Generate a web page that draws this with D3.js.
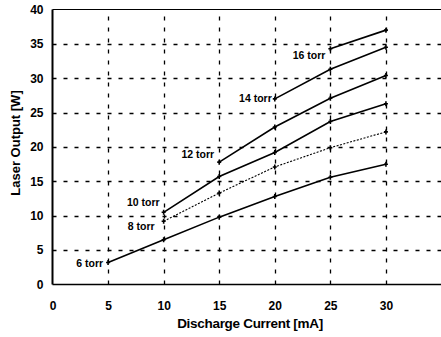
<!DOCTYPE html>
<html>
<head>
<meta charset="utf-8">
<script src="https://cdn.jsdelivr.net/npm/d3@7"></script>
<style>
  body { margin: 0; background: #fff; }
  text { font-family: "Liberation Sans", Arial, sans-serif; fill: #000; }
</style>
</head>
<body>
<svg id="chart" width="441" height="337"></svg>
<script>
// data
var currents = [5, 10, 15, 20, 25, 30]
var torr6  = [3.2, 6.5, 9.8, 12.8, 15.6, 17.5]
var torr8  = [null, 9.2, 13.3, 17.1, 19.9, 22.2]
var torr10 = [null, 10.5, 15.7, 19.2, 23.7, 26.3]
var torr12 = [null, null, 17.8, 22.9, 27.1, 30.4]
var torr14 = [null, null, null, 27.0, 31.3, 34.5]
var torr16 = [null, null, null, null, 34.3, 37.0]
var seriesNames = ["6 torr", "8 torr", "10 torr", "12 torr", "14 torr", "16 torr"]
var xTicks = [0, 5, 10, 15, 20, 25, 30]
var yTicks = [0, 5, 10, 15, 20, 25, 30, 35, 40]

var allSeries = [torr6, torr8, torr10, torr12, torr14, torr16]
// label offset relative to first point [dx, dy]
var labelOffsets = [[-5, 4], [-9, 9], [-4, -6], [-5, -4], [-3, 3], [-5, 10]]

var svg = d3.select("#chart")
var x = d3.scaleLinear().domain([0, 35]).range([52.5, 441.5])
var y = d3.scaleLinear().domain([0, 40]).range([284.5, 9.5])

// grid
var grid = svg.append("g").attr("class", "grid")
grid.selectAll("line.h")
    .data(yTicks.filter(function (d) { return d > 0 && d < 40 }))
    .enter().append("line")
    .attr("x1", x(0)).attr("x2", x(35))
    .attr("y1", function (d) { return Math.round(y(d)) + 0.5 })
    .attr("y2", function (d) { return Math.round(y(d)) + 0.5 })
    .attr("stroke", "#000").attr("stroke-width", 1.3)
    .attr("stroke-dasharray", "4,7")
grid.selectAll("line.v")
    .data(xTicks.filter(function (d) { return d > 0 }))
    .enter().append("line")
    .attr("y1", y(0)).attr("y2", y(40))
    .attr("x1", function (d) { return Math.round(x(d)) + 0.5 })
    .attr("x2", function (d) { return Math.round(x(d)) + 0.5 })
    .attr("stroke", "#000").attr("stroke-width", 1.3)
    .attr("stroke-dasharray", "4,7")

// frame: left, bottom, top
svg.append("line").attr("x1", x(0)).attr("x2", x(0)).attr("y1", y(0)).attr("y2", y(40))
    .attr("stroke", "#000").attr("stroke-width", 2)
svg.append("line").attr("x1", x(0)).attr("x2", x(35)).attr("y1", y(0)).attr("y2", y(0))
    .attr("stroke", "#000").attr("stroke-width", 1.6)
svg.append("line").attr("x1", x(0)).attr("x2", x(35)).attr("y1", y(40)).attr("y2", y(40))
    .attr("stroke", "#000").attr("stroke-width", 1)

// axes labels
var xAxis = d3.axisBottom(x).tickValues(xTicks).tickSize(0).tickPadding(17)
svg.append("g").attr("transform", "translate(0," + y(0) + ")").call(xAxis)
    .call(function (g) { g.select(".domain").remove() })
    .selectAll("text").style("font-size", "12px").style("font-weight", "bold")
    .style("font-family", "Liberation Sans, Arial, sans-serif")

var yAxis = d3.axisLeft(y).tickValues(yTicks).tickSize(0).tickPadding(9)
svg.append("g").attr("transform", "translate(" + x(0) + ",0)").call(yAxis)
    .call(function (g) { g.select(".domain").remove() })
    .selectAll("text").style("font-size", "12px").style("font-weight", "bold")
    .style("font-family", "Liberation Sans, Arial, sans-serif")

svg.append("text").attr("x", 250).attr("y", 328)
    .attr("text-anchor", "middle").style("font-size", "13.5px").style("font-weight", "bold")
    .style("letter-spacing", "-0.3px")
    .text("Discharge Current [mA]")
svg.append("text").attr("transform", "translate(20,143) rotate(-90)")
    .attr("text-anchor", "middle").style("font-size", "13px").style("font-weight", "bold")
    .text("Laser Output [W]")

// series
var line = d3.line()
    .defined(function (d) { return d != null })
    .x(function (d, i) { return x(currents[i]) })
    .y(function (d) { return y(d) })

allSeries.forEach(function (vals, k) {
    var dotted = (k == 1)
    svg.append("path").datum(vals)
        .attr("d", line)
        .attr("fill", "none").attr("stroke", "#000")
        .attr("stroke-width", dotted ? 1.1 : 1.6)
        .attr("stroke-dasharray", dotted ? "2,1.5" : null)

    var pts = []
    vals.forEach(function (v, i) { if (v != null) pts.push([currents[i], v]) })
    svg.append("g").selectAll("path.m").data(pts).enter().append("path")
        .attr("d", function (p) {
            var cx = x(p[0]), cy = y(p[1])
            return "M" + (cx - 2) + "," + cy + "H" + (cx + 2) + "M" + cx + "," + (cy - 2.5) + "V" + (cy + 2.5)
        })
        .attr("stroke", "#000").attr("stroke-width", 1.6)

    var off = labelOffsets[k]
    svg.append("text")
        .attr("x", x(pts[0][0]) + off[0])
        .attr("y", y(pts[0][1]) + off[1])
        .attr("text-anchor", "end")
        .style("font-size", "10.5px").style("font-weight", "bold")
        .text(seriesNames[k])
})
</script>
</body>
</html>
